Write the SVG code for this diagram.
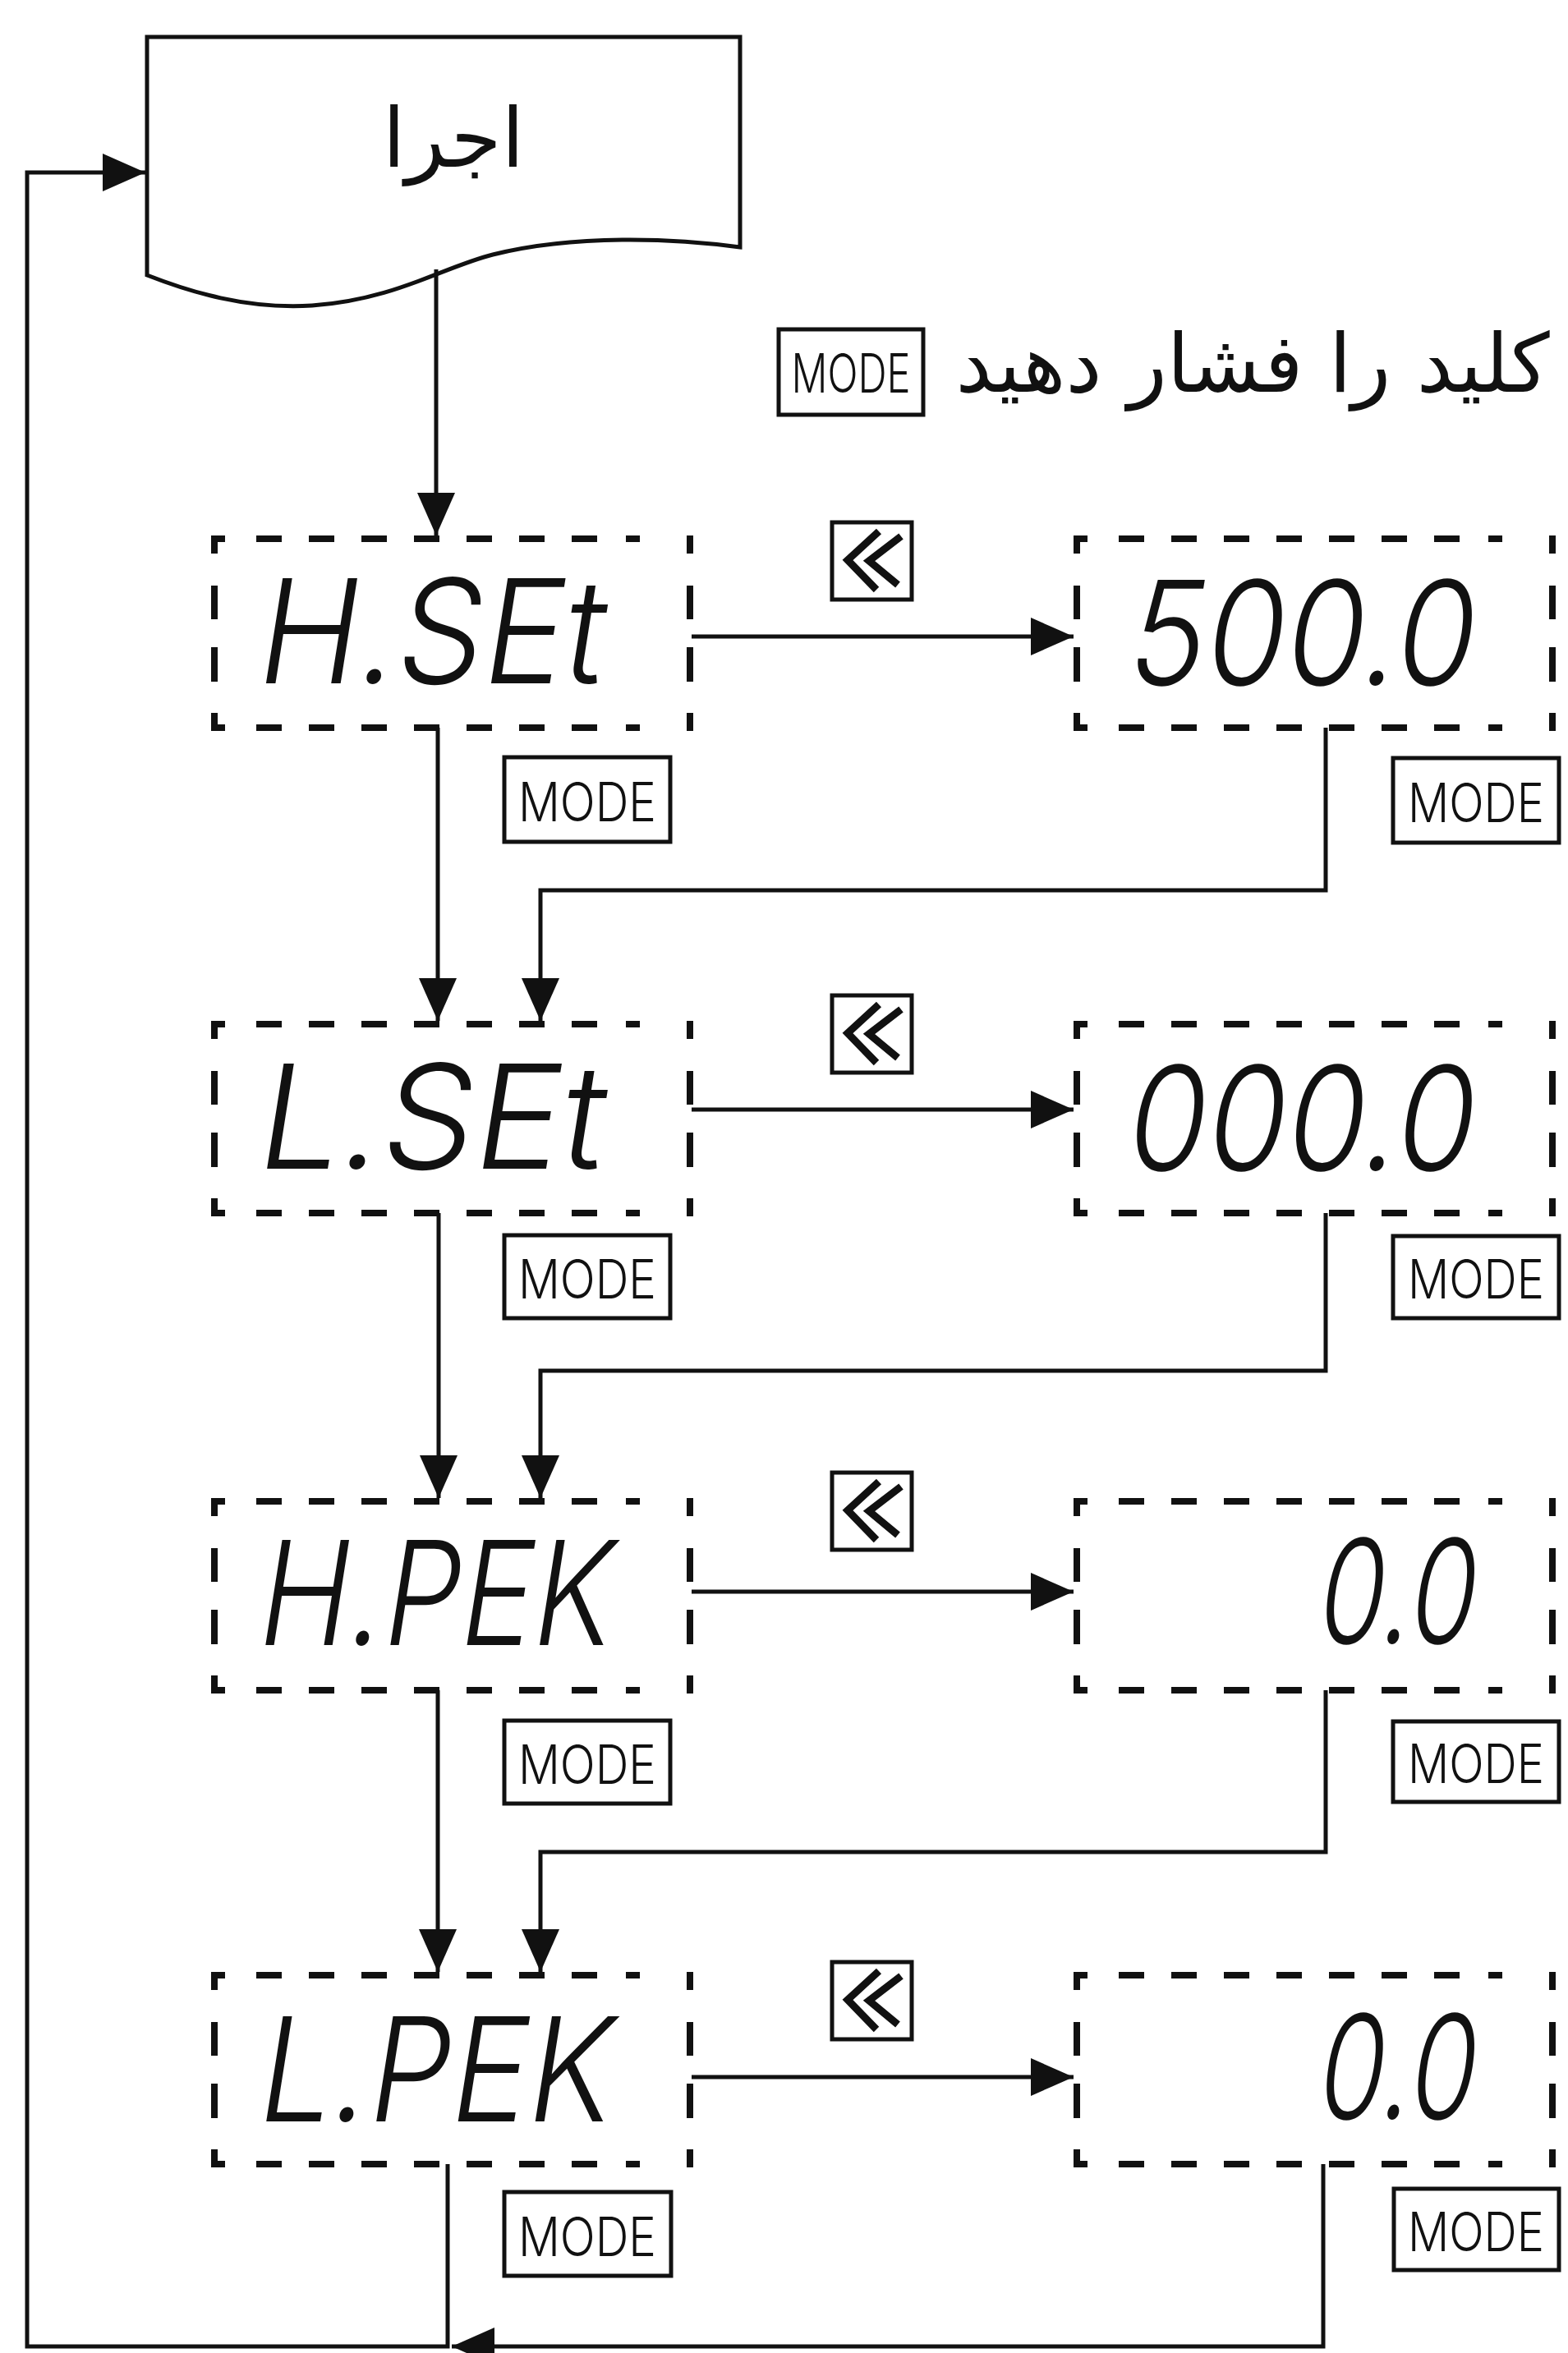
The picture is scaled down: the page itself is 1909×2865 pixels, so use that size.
<svg xmlns="http://www.w3.org/2000/svg" width="1909" height="2865" viewBox="0 0 1909 2865">
<style>
.ln{fill:none;stroke:#111;stroke-width:5}
.arr{fill:none;stroke:#111;stroke-width:5;marker-end:url(#ah)}
.dh{stroke:#111;stroke-width:8;stroke-dasharray:17 38 31 33 31 33 31 33 31 33 31 33 31 33 31 35 17 600}
.dv{stroke:#111;stroke-width:8;stroke-dasharray:22 39 41 34 42 38 22 300}
.key{fill:#fff;stroke:#111;stroke-width:5}
.keyt{font-family:Inter,"Liberation Sans",sans-serif;font-weight:300;font-size:66px;fill:#111;text-anchor:middle}
.seg{font-family:Inter,"Liberation Sans",sans-serif;font-weight:350;font-size:176px;fill:#111}
.ar{font-family:"DejaVu Sans","Noto Sans",sans-serif;fill:#111;text-anchor:middle}
.chev{fill:none;stroke:#111;stroke-width:9;stroke-linejoin:miter}
</style>
<defs>
<marker id="ah" markerUnits="userSpaceOnUse" markerWidth="52" markerHeight="46" viewBox="0 0 52 46" refX="52" refY="23" orient="auto"><path d="M0,0L52,23L0,46z" fill="#111"/></marker>
<g id="chevkey">
<rect class="key" x="0" y="0" width="97" height="94"/>
<polyline class="chev" points="57,11 19,46 54,82"/>
<polyline class="chev" points="84,17 45,47 80,76"/>
</g>
</defs>

<g id="connectors">
<path class="arr" d="M531,328V652"/>
<path class="arr" d="M842,775H1307"/>
<path class="arr" d="M533,886V1243"/>
<path class="arr" d="M1614,886V1084H658V1243"/>
<path class="arr" d="M842,1351H1307"/>
<path class="arr" d="M534,1477V1824"/>
<path class="arr" d="M1614,1477V1669H658V1824"/>
<path class="arr" d="M842,1938H1307"/>
<path class="arr" d="M533,2058V2401"/>
<path class="arr" d="M1614,2058V2255H658V2401"/>
<path class="arr" d="M842,2529H1307"/>
<path class="arr" d="M545,2635V2857H33V210H177"/>
<path class="arr" d="M1611,2635V2857H550"/>
</g>

<g id="start">
<path class="ln" d="M179,45H901V301C820,290 700,285 600,310C540,325 480,365 380,372C300,377 230,355 179,335Z" fill="#fff"/>
<text class="ar" x="552" y="203" font-size="100">اجرا</text>
</g>

<g id="instruction">
<rect class="key" x="948" y="401" width="176" height="104"/>
<text class="keyt" x="1036" y="478" textLength="145" lengthAdjust="spacingAndGlyphs">MODE</text>
<text class="ar" x="1525" y="477" font-size="99">کلید را فشار دهید</text>
</g>

<g id="hset">
<line class="dh" x1="257" y1="656" x2="844" y2="656"/><line class="dh" x1="257" y1="886" x2="844" y2="886"/>
<line class="dv" x1="261" y1="652" x2="261" y2="890"/><line class="dv" x1="840" y1="652" x2="840" y2="890"/>
<text class="seg" transform="translate(308,832) skewX(-9)" textLength="422" lengthAdjust="spacingAndGlyphs">H.SEt</text>
<rect class="key" x="614" y="922" width="202" height="103"/>
<text class="keyt" x="715" y="1000" textLength="168" lengthAdjust="spacingAndGlyphs">MODE</text>
</g>
<g id="hset-key"><use href="#chevkey" x="1013" y="636"/></g>
<g id="hset-value">
<line class="dh" x1="1307" y1="656" x2="1894" y2="656"/><line class="dh" x1="1307" y1="886" x2="1894" y2="886"/>
<line class="dv" x1="1311" y1="652" x2="1311" y2="890"/><line class="dv" x1="1890" y1="652" x2="1890" y2="890"/>
<text class="seg" transform="translate(1368,834) skewX(-9)" textLength="422" lengthAdjust="spacingAndGlyphs">500.0</text>
<rect class="key" x="1696" y="923" width="202" height="103"/>
<text class="keyt" x="1797" y="1001" textLength="166" lengthAdjust="spacingAndGlyphs">MODE</text>
</g>

<g id="lset">
<line class="dh" x1="257" y1="1247" x2="844" y2="1247"/><line class="dh" x1="257" y1="1477" x2="844" y2="1477"/>
<line class="dv" x1="261" y1="1243" x2="261" y2="1481"/><line class="dv" x1="840" y1="1243" x2="840" y2="1481"/>
<text class="seg" transform="translate(308,1423) skewX(-9)" textLength="422" lengthAdjust="spacingAndGlyphs">L.SEt</text>
<rect class="key" x="614" y="1504" width="202" height="101"/>
<text class="keyt" x="715" y="1581" textLength="168" lengthAdjust="spacingAndGlyphs">MODE</text>
</g>
<g id="lset-key"><use href="#chevkey" x="1013" y="1212"/></g>
<g id="lset-value">
<line class="dh" x1="1307" y1="1247" x2="1894" y2="1247"/><line class="dh" x1="1307" y1="1477" x2="1894" y2="1477"/>
<line class="dv" x1="1311" y1="1243" x2="1311" y2="1481"/><line class="dv" x1="1890" y1="1243" x2="1890" y2="1481"/>
<text class="seg" transform="translate(1366,1425) skewX(-9)" textLength="424" lengthAdjust="spacingAndGlyphs">000.0</text>
<rect class="key" x="1696" y="1505" width="202" height="100"/>
<text class="keyt" x="1797" y="1581" textLength="166" lengthAdjust="spacingAndGlyphs">MODE</text>
</g>

<g id="hpek">
<line class="dh" x1="257" y1="1828" x2="844" y2="1828"/><line class="dh" x1="257" y1="2058" x2="844" y2="2058"/>
<line class="dv" x1="261" y1="1824" x2="261" y2="2062"/><line class="dv" x1="840" y1="1824" x2="840" y2="2062"/>
<text class="seg" transform="translate(309,2003) skewX(-9)" textLength="430" lengthAdjust="spacingAndGlyphs">H.PEK</text>
<rect class="key" x="614" y="2095" width="202" height="101"/>
<text class="keyt" x="715" y="2172" textLength="168" lengthAdjust="spacingAndGlyphs">MODE</text>
</g>
<g id="hpek-key"><use href="#chevkey" x="1013" y="1793"/></g>
<g id="hpek-value">
<line class="dh" x1="1307" y1="1828" x2="1894" y2="1828"/><line class="dh" x1="1307" y1="2058" x2="1894" y2="2058"/>
<line class="dv" x1="1311" y1="1824" x2="1311" y2="2062"/><line class="dv" x1="1890" y1="1824" x2="1890" y2="2062"/>
<text class="seg" transform="translate(1599,2001) skewX(-9)" textLength="192" lengthAdjust="spacingAndGlyphs">0.0</text>
<rect class="key" x="1696" y="2096" width="202" height="98"/>
<text class="keyt" x="1797" y="2171" textLength="166" lengthAdjust="spacingAndGlyphs">MODE</text>
</g>

<g id="lpek">
<line class="dh" x1="257" y1="2405" x2="844" y2="2405"/><line class="dh" x1="257" y1="2635" x2="844" y2="2635"/>
<line class="dv" x1="261" y1="2401" x2="261" y2="2639"/><line class="dv" x1="840" y1="2401" x2="840" y2="2639"/>
<text class="seg" transform="translate(309,2583) skewX(-9)" textLength="430" lengthAdjust="spacingAndGlyphs">L.PEK</text>
<rect class="key" x="614" y="2669" width="203" height="102"/>
<text class="keyt" x="715" y="2747" textLength="168" lengthAdjust="spacingAndGlyphs">MODE</text>
</g>
<g id="lpek-key"><use href="#chevkey" x="1013" y="2389"/></g>
<g id="lpek-value">
<line class="dh" x1="1307" y1="2405" x2="1894" y2="2405"/><line class="dh" x1="1307" y1="2635" x2="1894" y2="2635"/>
<line class="dv" x1="1311" y1="2401" x2="1311" y2="2639"/><line class="dv" x1="1890" y1="2401" x2="1890" y2="2639"/>
<text class="seg" transform="translate(1599,2580) skewX(-9)" textLength="192" lengthAdjust="spacingAndGlyphs">0.0</text>
<rect class="key" x="1697" y="2665" width="201" height="99"/>
<text class="keyt" x="1797" y="2741" textLength="166" lengthAdjust="spacingAndGlyphs">MODE</text>
</g>
</svg>
